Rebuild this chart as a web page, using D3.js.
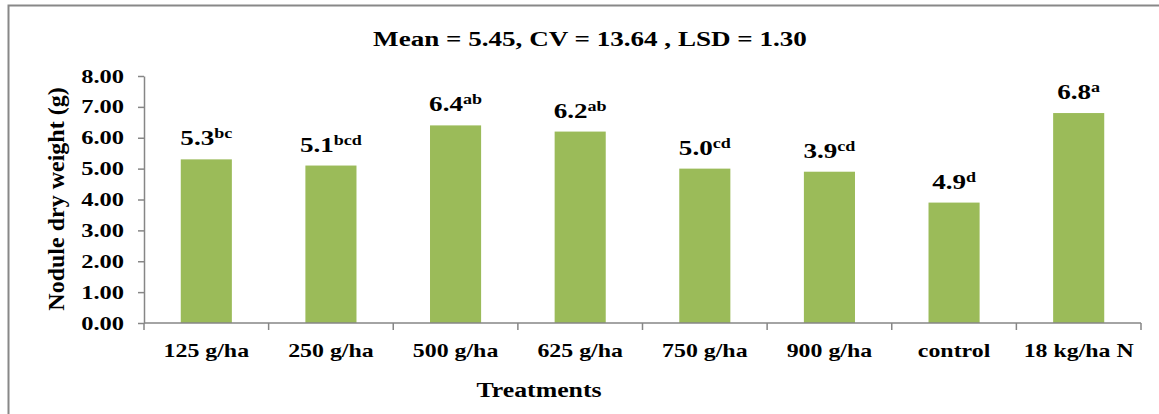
<!DOCTYPE html>
<html>
<head>
<meta charset="UTF-8">
<title>Nodule dry weight</title>
<script src="https://d3js.org/d3.v7.min.js"></script>
<style>
  body { margin: 0; background: #fff; }
  text { font-family: "Liberation Serif", "Times New Roman", serif; font-weight: bold; fill: #000; }
</style>
</head>
<body>
<div id="chart"></div>
<script>
// data
var treatments = ["125 g/ha", "250 g/ha", "500 g/ha", "625 g/ha", "750 g/ha", "900 g/ha", "control", "18 kg/ha N"];
var weights = [5.3, 5.1, 6.4, 6.2, 5.0, 4.9, 3.9, 6.8];
var labelValues = ["5.3", "5.1", "6.4", "6.2", "5.0", "3.9", "4.9", "6.8"];
var labelLetters = ["bc", "bcd", "ab", "ab", "cd", "cd", "d", "a"];
var yTicks = [0, 1, 2, 3, 4, 5, 6, 7, 8];
var title = "Mean = 5.45, CV = 13.64 , LSD = 1.30";

var W = 1159, H = 414;
var m = {left: 144, right: 1141, top: 76, bottom: 323};
var SX = 1.29; // the original text is stretched sideways

var svg = d3.select("#chart").append("svg")
  .attr("width", W).attr("height", H);

// outer frame (top and left edges visible)
svg.append("path")
  .attr("d", "M8.5," + H + "V5.5H" + W)
  .attr("fill", "none")
  .attr("stroke", "#888")
  .attr("stroke-width", 2);

var x = d3.scaleBand().domain(treatments).range([m.left, m.right]).padding(0);
var y = d3.scaleLinear().domain([0, 8]).range([m.bottom, m.top]);

var barW = x.bandwidth() * 0.41;

// bars
svg.selectAll("rect.bar")
  .data(weights)
  .enter().append("rect")
  .attr("class", "bar")
  .attr("x", function(d, i) { return x(treatments[i]) + x.bandwidth() / 2 - barW / 2; })
  .attr("y", function(d) { return y(d); })
  .attr("width", barW)
  .attr("height", function(d) { return y(0) - y(d); })
  .attr("fill", "#9bbb59");

// Y axis
var yAxis = svg.append("g")
  .attr("transform", "translate(" + m.left + ",0)")
  .call(d3.axisLeft(y).tickValues(yTicks).tickFormat(d3.format(".2f")).tickSize(6).tickSizeOuter(0));
yAxis.select(".domain").attr("stroke", "#868686").attr("stroke-width", 1.5);
yAxis.selectAll(".tick line").attr("stroke", "#868686").attr("stroke-width", 1.5);
yAxis.selectAll(".tick text")
  .attr("font-size", 19)
  .attr("font-family", "Liberation Serif")
  .attr("font-weight", "bold")
  .attr("fill", "#000")
  .attr("x", -20 / SX)
  .attr("transform", "scale(" + SX + ",1)");

// X axis: labels under band centres, ticks at band edges
var xAxis = svg.append("g")
  .attr("transform", "translate(0," + m.bottom + ")")
  .call(d3.axisBottom(x).tickSize(0).tickPadding(21));
xAxis.select(".domain").remove();
xAxis.selectAll(".tick text")
  .attr("font-size", 18.5)
  .attr("font-family", "Liberation Serif")
  .attr("font-weight", "bold")
  .attr("fill", "#000")
  .attr("transform", "scale(" + SX + ",1)");

xAxis.append("line")
  .attr("x1", m.left).attr("x2", m.right)
  .attr("stroke", "#868686").attr("stroke-width", 1.5);
var edges = treatments.map(function(d) { return x(d); }).concat([m.right]);
xAxis.selectAll("line.edge")
  .data(edges)
  .enter().append("line")
  .attr("class", "edge")
  .attr("x1", function(d) { return d; }).attr("x2", function(d) { return d; })
  .attr("y1", 0).attr("y2", 7)
  .attr("stroke", "#868686").attr("stroke-width", 1.5);

// value labels with letter superscripts
var lab = svg.selectAll("text.val")
  .data(weights)
  .enter().append("text")
  .attr("class", "val")
  .attr("transform", function(d, i) {
    return "translate(" + (x(treatments[i]) + x.bandwidth() / 2) + "," + (y(d) - 14) + ") scale(" + SX + ",1)";
  })
  .attr("text-anchor", "middle")
  .attr("font-size", 21);
lab.append("tspan").text(function(d, i) { return labelValues[i]; });
lab.append("tspan")
  .attr("font-size", 14)
  .attr("dy", -7)
  .text(function(d, i) { return labelLetters[i]; });

// title
svg.append("text")
  .attr("transform", "translate(590,46) scale(" + SX + ",1)")
  .attr("text-anchor", "middle")
  .attr("font-size", 21)
  .text(title);

// axis titles
svg.append("text")
  .attr("transform", "translate(64,199) rotate(-90)")
  .attr("text-anchor", "middle")
  .attr("font-size", 24)
  .text("Nodule dry weight (g)");

svg.append("text")
  .attr("transform", "translate(539,397) scale(" + SX + ",1)")
  .attr("text-anchor", "middle")
  .attr("font-size", 20)
  .text("Treatments");
</script>
</body>
</html>
